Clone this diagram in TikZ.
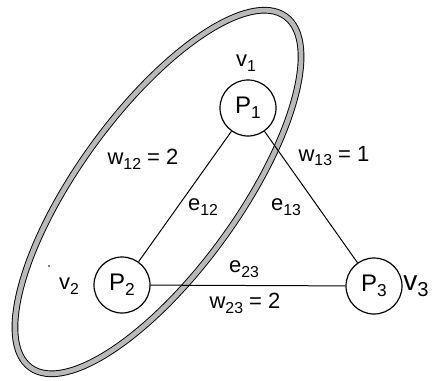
\documentclass[tikz,border=0pt]{standalone}
\usepackage{fontspec}
\usepackage{graphicx}
\setmainfont{Liberation Sans}
\newcommand\sbs[1]{\raisebox{-0.22em}{\scalebox{0.72}{#1}}}
\tikzset{
  proc/.style={draw, circle, line width=0.9pt, minimum size=42pt, inner sep=0pt, font=\fontsize{18}{18}\selectfont},
  lbl/.style={inner sep=0pt, font=\fontsize{16.5}{16.5}\selectfont},
  edge/.style={line width=0.75pt},
  band/.style={draw=black, line width=0.7pt, double=gray!55, double distance=3.6pt}
}
\begin{document}
\begin{tikzpicture}[x=0.75pt, y=-0.75pt]
\useasboundingbox (0,0) rectangle (432,380);
\draw[band, shift={(158,192)}, rotate=54] (0,0) ellipse (217 and 80);
\node[proc] (p1) at (248,108) {P\sbs{1}};
\node[proc] (p2) at (122,285) {P\sbs{2}};
\node[proc] (p3) at (374,286) {P\sbs{3}};
\draw[edge] (p1) -- (p2);
\draw[edge] (p1) -- (p3);
\draw[edge] (p2) -- (p3);
\node[lbl] (v1) at (246,63) {v\sbs{1}};
\node[lbl] (v2) at (69,286) {v\sbs{2}};
\node[lbl, anchor=west, font=\fontsize{21}{21}\selectfont] (v3) at (403,286) {v\sbs{3}};
\node[lbl] (w12) at (143,159) {w\sbs{12} = 2};
\node[lbl] (w13) at (334,156) {w\sbs{13} = 1};
\node[lbl] (w23) at (245,303) {w\sbs{23} = 2};
\node[lbl] (e12) at (203,207) {e\sbs{12}};
\node[lbl] (e13) at (286,207) {e\sbs{13}};
\node[lbl] (e23) at (244,269) {e\sbs{23}};
\fill (49,266) circle (0.8);
\end{tikzpicture}
\end{document}
